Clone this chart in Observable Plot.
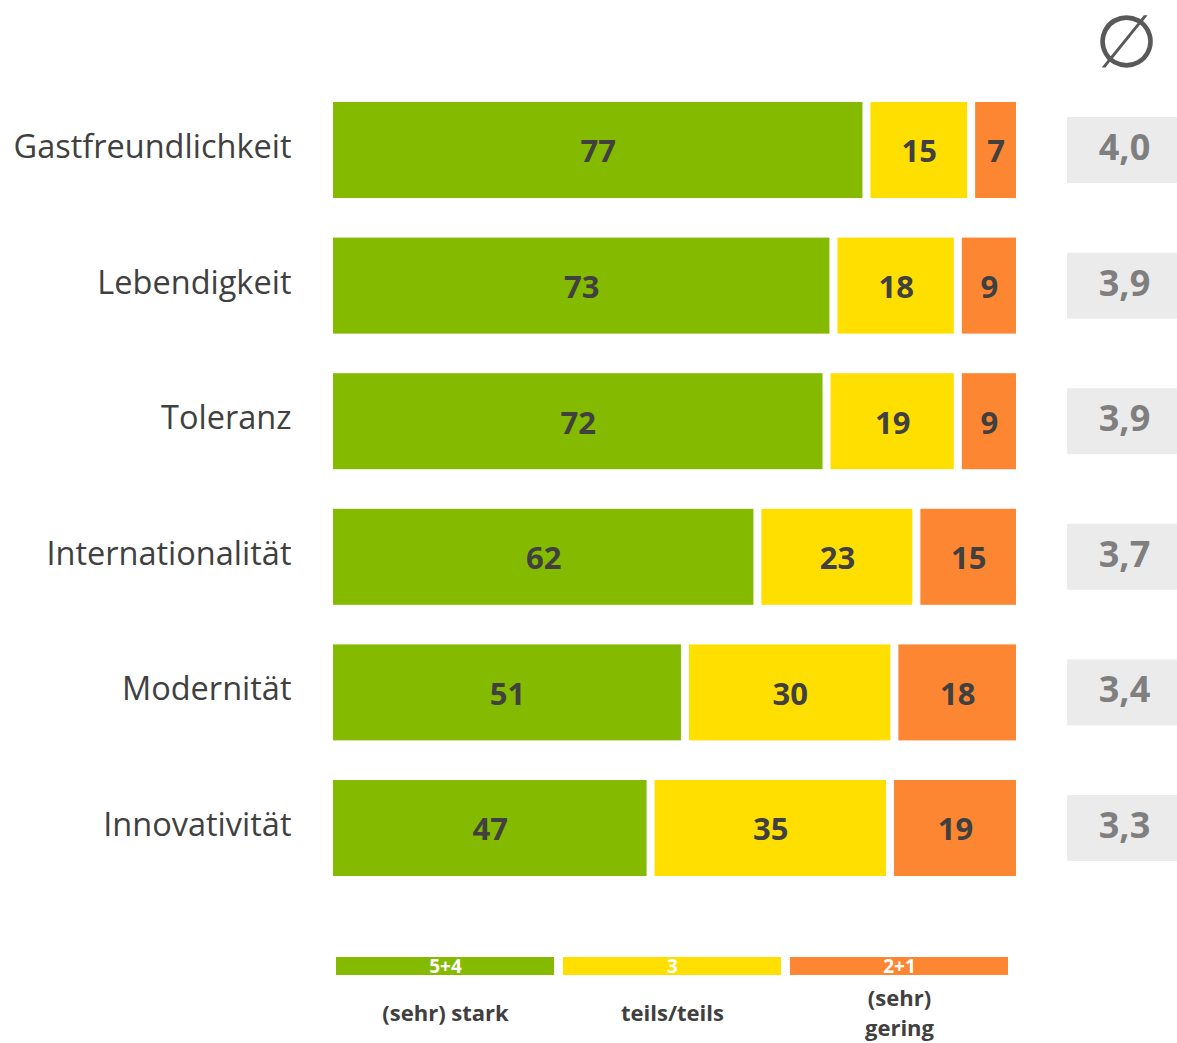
<!DOCTYPE html>
<html>
<head>
<meta charset="utf-8">
<script src="https://cdn.jsdelivr.net/npm/d3@7"></script>
<script src="https://cdn.jsdelivr.net/npm/@observablehq/plot@0.6"></script>
<style>
  body { margin: 0; background: white; }
  #wrap { position: relative; width: 1177px; height: 1043px; overflow: hidden; }
  #wrap > svg, #wrap > figure { position: absolute; margin: 0; }
</style>
</head>
<body>
<div id="wrap"></div>
<script>
const categories = ["Gastfreundlichkeit", "Lebendigkeit", "Toleranz", "Internationalität", "Modernität", "Innovativität"];
const stark  = [77, 73, 72, 62, 51, 47];
const teils  = [15, 18, 19, 23, 30, 35];
const gering = [7, 9, 9, 15, 18, 19];
const averages = [4.0, 3.9, 3.9, 3.7, 3.4, 3.3];

const groups = ["stark", "teils", "gering"];
const groupColors = ["#84BA00", "#FFDF00", "#FC8632"];
const legendKeys = ["5+4", "3", "2+1"];
const legendLabels = ["(sehr) stark", "teils/teils", "(sehr)\ngering"];
const avgSymbol = "∅";

const font = "'Open Sans', sans-serif";
const series = [stark, teils, gering];
const data = [];
categories.forEach((c, i) => groups.forEach((g, j) => data.push({cat: c, group: g, value: series[j][i]})));
const avgData = categories.map((c, i) => ({cat: c, avg: averages[i]}));
const fmt = v => v.toFixed(1).replace(".", ",");

const wrap = document.getElementById("wrap");

const yScale = {domain: categories, padding: 0.292, round: false};

const main = Plot.plot({
  width: 1177,
  height: 930,
  marginLeft: 329,
  marginRight: 157,
  marginTop: 62.4,
  marginBottom: 14.4,
  style: {fontFamily: font, color: "#404040", background: "white"},
  x: {axis: null, round: false},
  y: {...yScale, label: null},
  color: {domain: groups, range: groupColors},
  marks: [
    Plot.axisY({tickSize: 0, tickPadding: 38, fontSize: 32.5, label: null, fill: "#404040", dy: -3}),
    Plot.barX(data, Plot.stackX({x: "value", y: "cat", fill: "group", order: groups, offset: "normalize", insetLeft: 4, insetRight: 4})),
    Plot.text(data, Plot.stackX({x: "value", y: "cat", z: "group", order: groups, offset: "normalize", text: d => String(d.value), fontSize: 31, fontWeight: "bold", fill: "#404040", dy: 2}))
  ]
});
main.style.left = "0px"; main.style.top = "0px";
wrap.appendChild(main);

const avgPlot = Plot.plot({
  width: 110,
  height: 930,
  marginLeft: 0,
  marginRight: 0,
  marginTop: 62.4,
  marginBottom: 14.4,
  style: {fontFamily: font, background: "white", overflow: "visible"},
  y: {...yScale, axis: null},
  marks: [
    Plot.cell(avgData, {y: "cat", fill: "#EBEBEB", insetTop: 15, insetBottom: 15}),
    Plot.text(avgData, {y: "cat", text: d => fmt(d.avg), fontSize: 36, fontWeight: "bold", fill: "#7F7F7F", frameAnchor: "middle", dx: 2, dy: -2}),
    Plot.text([avgSymbol], {text: d => d, frameAnchor: "top", dy: -19, dx: 4, fontSize: 73, fill: "#595959", fontFamily: "DejaVu Sans", lineAnchor: "middle"})
  ]
});
avgPlot.style.left = "1067px"; avgPlot.style.top = "0px";
wrap.appendChild(avgPlot);

const legend = Plot.plot({
  width: 1177,
  height: 103,
  marginLeft: 326,
  marginRight: 159,
  marginTop: 17,
  marginBottom: 68,
  style: {fontFamily: font, background: "white", overflow: "visible"},
  x: {domain: legendKeys, padding: 0.04, axis: null},
  color: {domain: legendKeys, range: groupColors},
  marks: [
    Plot.cell(legendKeys, {x: d => d, fill: d => d}),
    Plot.text(legendKeys, {x: d => d, text: d => d, frameAnchor: "middle", fill: "white", fontWeight: "bold", fontSize: 19, dy: 0}),
    Plot.text(legendKeys.map((k, i) => ({k, label: legendLabels[i]})), {x: "k", text: "label", frameAnchor: "bottom", dy: 36, lineAnchor: "middle", lineHeight: 1.36, fontSize: 22, fontWeight: "bold", fill: "#404040"})
  ]
});
legend.style.left = "0px"; legend.style.top = "940px";
wrap.appendChild(legend);
</script>
</body>
</html>
